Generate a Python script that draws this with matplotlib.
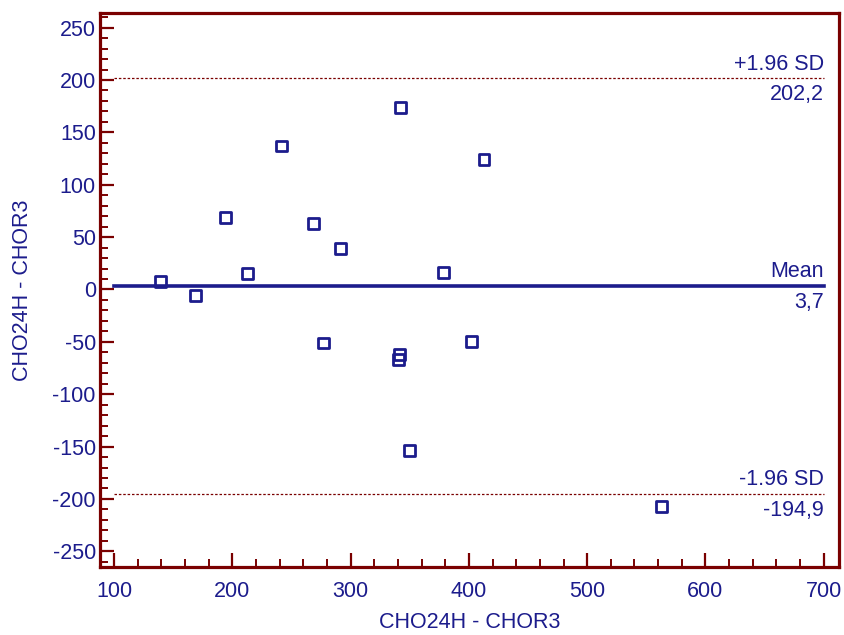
import matplotlib
matplotlib.use('Agg')
import matplotlib.pyplot as plt
from matplotlib.ticker import MultipleLocator

plt.rcParams['font.family'] = ['Liberation Sans', 'DejaVu Sans']
plt.rcParams['axes.unicode_minus'] = False

# means (x) and differences (y)
x_mean = [139, 168.6, 194, 212.7, 241.5, 268.6, 291.5, 277, 342.4, 340.7,
          341.5, 350, 378.8, 402.5, 412.7, 562.7]
y_diff = [7.3, -6, 68.4, 15, 137, 62.7, 38.8, -51, 173.5, -67,
          -62, -154, 16, -50, 124, -207]

mean_diff = 3.7
upper_sd = 202.2
lower_sd = -194.9
axis_label = 'CHO24H - CHOR3'

navy = '#1c1c8c'
maroon = '#7a0000'

fig = plt.figure(figsize=(8.45, 6.35), dpi=100)
ax = fig.add_axes([100 / 845, 1 - 567 / 635, 739 / 845, 554 / 635])

ax.set_xlim(88, 713)
ax.set_ylim(-265, 264)

ax.scatter(x_mean, y_diff, marker='s', s=60, facecolors='none',
           edgecolors=navy, linewidths=2, zorder=3)

x0, x1 = 100, 700
ax.plot([x0, x1], [mean_diff, mean_diff], color=navy, lw=2.6, zorder=2)
ax.plot([x0, x1], [upper_sd, upper_sd], color=maroon, lw=0.9, ls=(0, (2, 1.5)))
ax.plot([x0, x1], [lower_sd, lower_sd], color=maroon, lw=0.9, ls=(0, (2, 1.5)))

fs = 15.5
for val, name in [(upper_sd, '+1.96 SD'), (mean_diff, 'Mean'), (lower_sd, '-1.96 SD')]:
    ax.text(x1, val + 3, name, ha='right', va='bottom', color=navy, fontsize=fs)
    ax.text(x1, val - 6, f'{val:.1f}'.replace('.', ','), ha='right', va='top',
            color=navy, fontsize=fs)

ax.xaxis.set_major_locator(MultipleLocator(100))
ax.xaxis.set_minor_locator(MultipleLocator(20))
ax.yaxis.set_major_locator(MultipleLocator(50))
ax.yaxis.set_minor_locator(MultipleLocator(10))

for sp in ax.spines.values():
    sp.set_color(maroon)
    sp.set_linewidth(2.3)

ax.tick_params(which='both', direction='in', color=maroon, labelcolor=navy,
               labelsize=fs, top=False, right=False)
ax.tick_params(which='major', length=10, width=1.6)
ax.tick_params(which='minor', length=5.5, width=1.4)
ax.tick_params(axis='x', which='major', pad=10)
ax.tick_params(axis='y', which='major', pad=3)

ax.set_xlabel(axis_label, color=navy, fontsize=fs, labelpad=7)
ax.set_ylabel(axis_label, color=navy, fontsize=fs, labelpad=14)

plt.savefig('out.png', dpi=100)
plt.close()
